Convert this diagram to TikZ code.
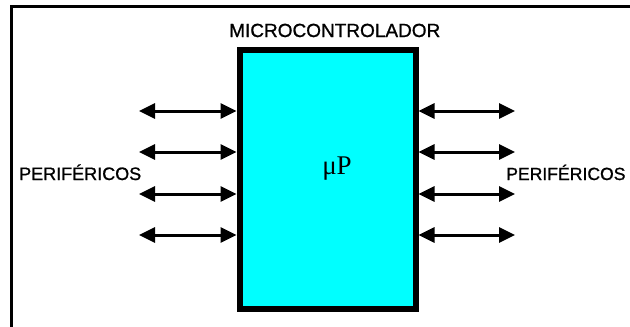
\documentclass[tikz,border=0pt]{standalone}
\usepackage{fontspec}
\setmainfont{Liberation Sans}
\newfontfamily\capfont[FakeBold=1]{Liberation Sans}
\newfontfamily\upfont{Liberation Serif}
\usetikzlibrary{arrows.meta}
\definecolor{chipcyan}{RGB}{0,255,255}
\tikzset{
  mcubox/.style={draw=black, line width=6pt, fill=chipcyan, minimum width=176pt, minimum height=259pt, inner sep=0pt},
  bus/.style={line width=3pt, {Triangle[length=16pt, width=15pt]}-{Triangle[length=16pt, width=15pt]}},
  caption/.style={inner sep=0pt, anchor=base west, font=\capfont\fontsize{19}{22}\selectfont}
}
\begin{document}
\begin{tikzpicture}[x=1pt, y=-1pt]
\useasboundingbox (0,0) rectangle (630,327);
\fill[white] (0,0) rectangle (630,327);
% outer frame (only top and left edges show)
\draw[line width=3pt] (11.5,340) -- (11.5,6.5) -- (640,6.5);
% the chip
\node[mcubox] (mcu) at (327.5,179) {};
\node[inner sep=0pt, anchor=base, font=\upfont\fontsize{27}{29}\selectfont] (up) at (337,174) {μP};
\node[caption] (title) at (229,37) {MICROCONTROLADOR};
% peripheral buses, left and right
\foreach \y [count=\i] in {111,152,194,235} {
  \coordinate (l\i) at (139,\y);
  \coordinate (r\i) at (515,\y);
  \draw[bus] (l\i) -- (l\i -| mcu.west);
  \draw[bus] (r\i -| mcu.east) -- (r\i);
}
\node[caption, font=\capfont\fontsize{18}{20}\selectfont] (perl) at (19,180) {PERIFÉRICOS};
\node[caption, font=\capfont\fontsize{17.6}{20}\selectfont] (perr) at (506,180) {PERIFÉRICOS};
\end{tikzpicture}
\end{document}
